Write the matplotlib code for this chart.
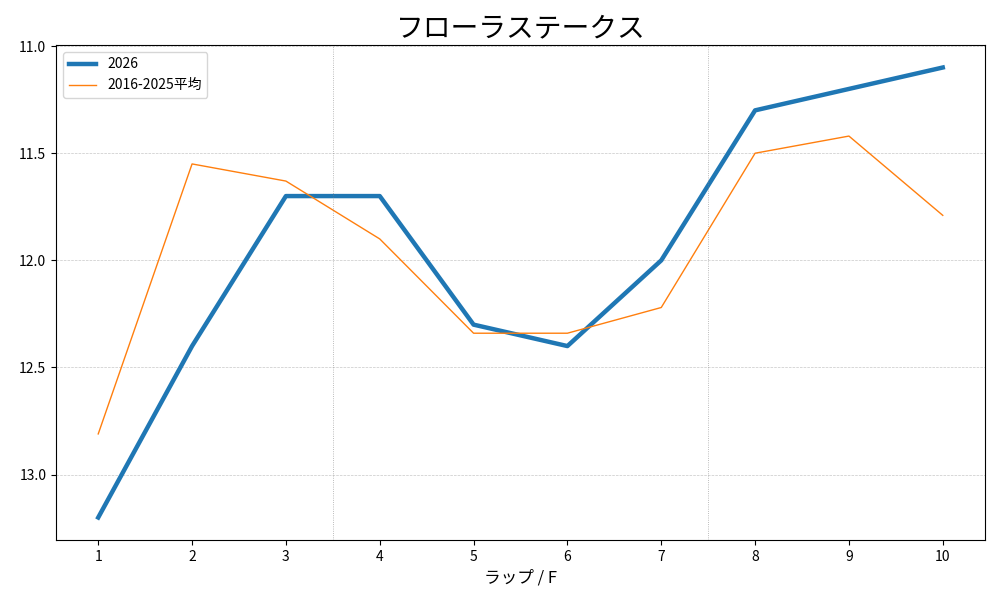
import matplotlib
matplotlib.use('Agg')
import matplotlib.pyplot as plt

plt.rcParams['font.family'] = ['Noto Sans CJK JP', 'DejaVu Sans']

# ── Data ──────────────────────────────────────────────────────────────────────
laps = [1, 2, 3, 4, 5, 6, 7, 8, 9, 10]
lap_2026 = [13.2, 12.4, 11.7, 11.7, 12.3, 12.4, 12.0, 11.3, 11.2, 11.1]
lap_avg = [12.81, 11.55, 11.63, 11.9, 12.34, 12.34, 12.22, 11.5, 11.42, 11.79]
section_marks = [3.5, 7.5]

# ── Plot ──────────────────────────────────────────────────────────────────────
fig, ax = plt.subplots(figsize=(10, 6), dpi=100)

ax.plot(laps, lap_2026, color='#1f77b4', lw=3.2, label='2026')
ax.plot(laps, lap_avg, color='#ff7f0e', lw=1.0, label='2016-2025平均')

for xm in section_marks:
    ax.axvline(xm, color='gray', linestyle=':', lw=0.6, alpha=0.7)

ax.invert_yaxis()
ax.set_xticks(laps)
ax.set_yticks([11.0, 11.5, 12.0, 12.5, 13.0])
ax.grid(True, axis='y', linestyle='--', lw=0.5, alpha=0.7)

ax.set_title('フローラステークス', fontsize=20)
ax.set_xlabel('ラップ / F', fontsize=12)
ax.legend(loc='upper left', fontsize=10)

fig.tight_layout()
fig.subplots_adjust(left=0.056, right=0.985, top=0.925, bottom=0.1)
fig.savefig('out.png', dpi=100)
plt.close(fig)
